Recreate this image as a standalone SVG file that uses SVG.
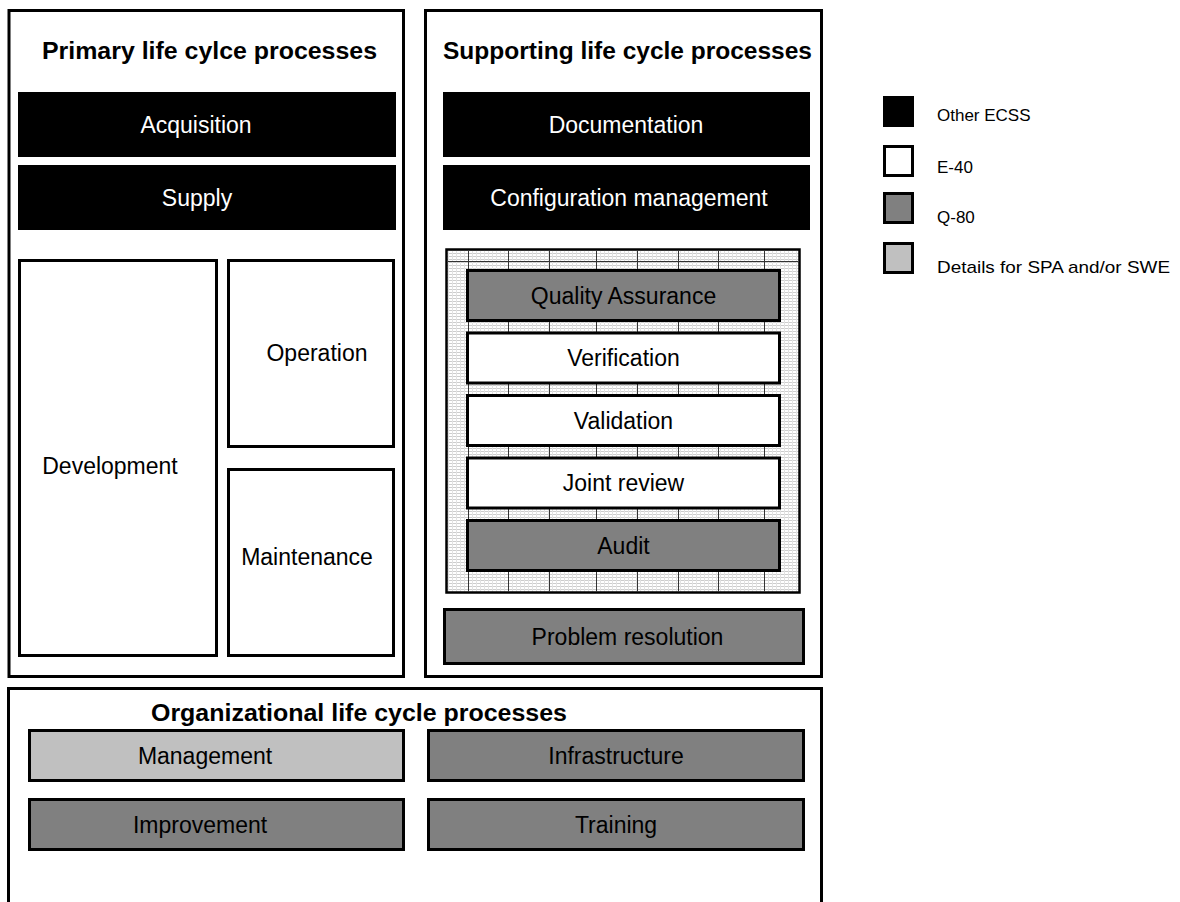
<svg xmlns="http://www.w3.org/2000/svg" width="1180" height="902" viewBox="0 0 1180 902">
<defs>
<pattern id="hatch" width="4" height="3" patternUnits="userSpaceOnUse">
<rect width="4" height="3" fill="#ffffff"/>
<rect x="0" y="1" width="4" height="1" fill="#cdcdcd"/>
<rect x="0" y="0" width="1" height="3" fill="#e2e2e2"/>
</pattern>
</defs>
<style>
.frame{fill:#ffffff;stroke:#000;stroke-width:3}
.black{fill:#000}
.white{fill:#ffffff;stroke:#000;stroke-width:3}
.dark{fill:#808080;stroke:#000;stroke-width:3}
.light{fill:#c0c0c0;stroke:#000;stroke-width:3}
.grid{fill:url(#hatch);stroke:#000;stroke-width:2.5}
.gl{stroke:#333;stroke-width:1;fill:none}
text{font-family:"Liberation Sans",Arial,sans-serif}
.title{font-size:23px;font-weight:bold;fill:#000;text-anchor:middle}
.lbl{font-size:23px;fill:#000;text-anchor:middle}
.lblw{font-size:23px;fill:#fff;text-anchor:middle}
.leg{font-size:17px;fill:#000}
</style>

<g id="primary">
<rect class="frame" x="9" y="10.5" width="394.5" height="666"/>
<text class="title" x="209.5" y="59" textLength="335" lengthAdjust="spacingAndGlyphs">Primary life cylce processes</text>
</g>
<g id="acquisition">
<rect class="black" x="18" y="92" width="378" height="65"/>
<text class="lblw" x="196" y="133">Acquisition</text>
</g>
<g id="supply">
<rect class="black" x="18" y="165" width="378" height="65"/>
<text class="lblw" x="197" y="206">Supply</text>
</g>
<g id="development">
<rect class="white" x="19.5" y="260.5" width="197" height="395"/>
<text class="lbl" x="110" y="474">Development</text>
</g>
<g id="operation">
<rect class="white" x="228.5" y="260.5" width="165" height="186"/>
<text class="lbl" x="317" y="361">Operation</text>
</g>
<g id="maintenance">
<rect class="white" x="228.5" y="469.5" width="165" height="186"/>
<text class="lbl" x="307" y="565">Maintenance</text>
</g>

<g id="supporting">
<rect class="frame" x="425.5" y="10.5" width="396" height="666"/>
<text class="title" x="627.5" y="59" textLength="369" lengthAdjust="spacingAndGlyphs">Supporting life cycle processes</text>
</g>
<g id="documentation">
<rect class="black" x="443" y="92" width="367" height="65"/>
<text class="lblw" x="626" y="133">Documentation</text>
</g>
<g id="configuration-management">
<rect class="black" x="443" y="165" width="367" height="65"/>
<text class="lblw" x="629" y="206">Configuration management</text>
</g>
<g id="sqa-area">
<rect class="grid" x="446.5" y="249.5" width="353" height="343"/>
<path class="gl" d="M468.5 251V592M508.5 251V592M549.5 251V592M596.5 251V592M637.5 251V592M678.5 251V592M718.5 251V592M764.5 251V592M448 261.5H798"/>
</g>
<g id="quality-assurance">
<rect class="dark" x="467.5" y="270.5" width="312" height="50"/>
<text class="lbl" x="623.5" y="304">Quality Assurance</text>
</g>
<g id="verification">
<rect class="white" x="467.5" y="333" width="312" height="50"/>
<text class="lbl" x="623.5" y="366">Verification</text>
</g>
<g id="validation">
<rect class="white" x="467.5" y="395.5" width="312" height="50"/>
<text class="lbl" x="623.5" y="429">Validation</text>
</g>
<g id="joint-review">
<rect class="white" x="467.5" y="458" width="312" height="50"/>
<text class="lbl" x="623.5" y="491">Joint review</text>
</g>
<g id="audit">
<rect class="dark" x="467.5" y="520.5" width="312" height="50"/>
<text class="lbl" x="623.5" y="554">Audit</text>
</g>
<g id="problem-resolution">
<rect class="dark" x="444.5" y="609.5" width="359" height="54"/>
<text class="lbl" x="627.5" y="645">Problem resolution</text>
</g>

<g id="organizational">
<rect class="frame" x="8.5" y="688.5" width="813" height="300"/>
<text class="title" x="359" y="721" textLength="416" lengthAdjust="spacingAndGlyphs">Organizational life cycle processes</text>
</g>
<g id="management">
<rect class="light" x="29.5" y="730.5" width="374" height="50"/>
<text class="lbl" x="205" y="764">Management</text>
</g>
<g id="infrastructure">
<rect class="dark" x="428.5" y="730.5" width="375" height="50"/>
<text class="lbl" x="616" y="764">Infrastructure</text>
</g>
<g id="improvement">
<rect class="dark" x="29.5" y="799.5" width="374" height="50"/>
<text class="lbl" x="200" y="833">Improvement</text>
</g>
<g id="training">
<rect class="dark" x="428.5" y="799.5" width="375" height="50"/>
<text class="lbl" x="616" y="833">Training</text>
</g>

<g id="legend">
<rect class="black" x="883" y="96" width="31" height="31"/>
<text class="leg" x="937" y="121">Other ECSS</text>
<rect class="white" x="884.5" y="146.5" width="28" height="29"/>
<text class="leg" x="937" y="173">E-40</text>
<rect class="dark" x="884.5" y="193.5" width="28" height="29"/>
<text class="leg" x="937" y="223">Q-80</text>
<rect class="light" x="884.5" y="243.5" width="28" height="29"/>
<text class="leg" x="937" y="273" textLength="233" lengthAdjust="spacingAndGlyphs">Details for SPA and/or SWE</text>
</g>

<g id="connectors"/>
</svg>
